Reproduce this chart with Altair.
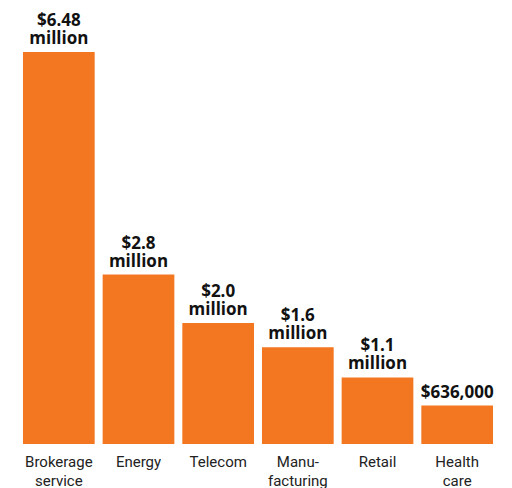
import altair as alt
import pandas as pd

categories = ["Brokerage\nservice", "Energy", "Telecom", "Manu-\nfacturing", "Retail", "Health\ncare"]
values = [6.48, 2.8, 2.0, 1.6, 1.1, 0.636]
label_top = ["$6.48", "$2.8", "$2.0", "$1.6", "$1.1", ""]
label_bottom = ["million", "million", "million", "million", "million", "$636,000"]

df = pd.DataFrame({"cat": categories, "val": values, "l1": label_top, "l2": label_bottom})

x = alt.X("cat:N", sort=categories, title=None,
          scale=alt.Scale(paddingInner=0.1, paddingOuter=0.05),
          axis=alt.Axis(labelAngle=0, domain=False, ticks=False, labelPadding=10,
                        labelFont="Roboto", labelFontSize=15, labelColor="#222222",
                        labelLineHeight=19, labelBaseline="top",
                        labelExpr="split(datum.label, '\\n')"))
y = alt.Y("val:Q", title=None, scale=alt.Scale(domain=[0, 6.48], nice=False, zero=True),
          axis=None)

base = alt.Chart(df)
bars = base.mark_bar(color="#F37721").encode(x=x, y=y)
txt_style = dict(baseline="alphabetic", font="Open Sans", fontWeight="bold",
                 fontSize=17, color="#111111")
text2 = base.mark_text(dy=-8, **txt_style).encode(
    x=alt.X("cat:N", sort=categories), y="val:Q", text="l2:N")
text1 = base.mark_text(dy=-26, **txt_style).encode(
    x=alt.X("cat:N", sort=categories), y="val:Q", text="l1:N")

chart = (bars + text1 + text2).properties(
    width=478, height=392,
    padding={"left": 19, "top": 52, "right": 15, "bottom": 44},
    autosize=alt.AutoSizeParams(type="none"),
).configure_view(stroke=None)

chart.save("out.html", embed_options={"renderer": "svg", "actions": False})
